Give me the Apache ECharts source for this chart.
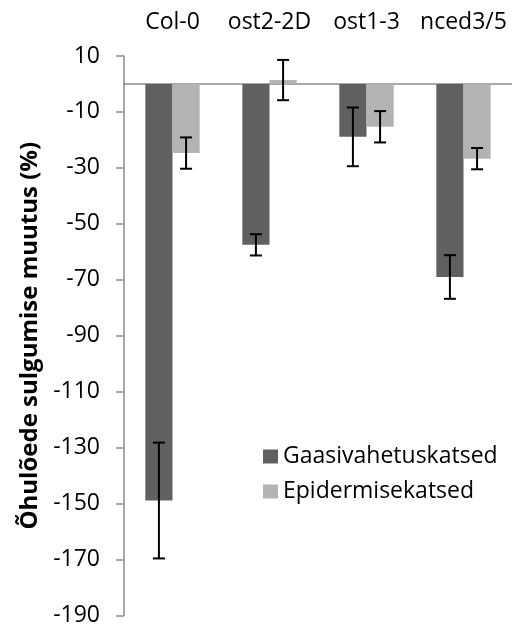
<!DOCTYPE html>
<html>
<head>
<meta charset="utf-8">
<script src="https://cdn.jsdelivr.net/npm/echarts@6/dist/echarts.min.js"></script>
<style>
  html, body { margin: 0; padding: 0; background: #fff; }
  #chart { width: 512px; height: 627px; }
</style>
</head>
<body>
<div id="chart"></div>
<script>
// Genotypes compared
var categories = ['Col-0', 'ost2-2D', 'ost1-3', 'nced3/5'];

// Change in stomatal closure (%) — gas-exchange experiments
var gasValues = [-148.9, -57.5, -18.9, -69.0];
var gasErrors = [20.7, 3.8, 10.5, 7.8];

// Change in stomatal closure (%) — epidermis experiments
var epiValues = [-24.7, 1.4, -15.3, -26.7];
var epiErrors = [5.6, 7.2, 5.6, 3.8];

// Y axis tick labels
var yTicks = [10, -10, -30, -50, -70, -90, -110, -130, -150, -170, -190];

var seriesNames = ['Gaasivahetuskatsed', 'Epidermisekatsed'];
var colors = ['#606060', '#b3b3b3'];
var FONT = 'Open Sans';
var FONT_SIZE = 23;
var BAR_FRAC = 0.28;

function errorData(values, errors, which) {
  return values.map(function (v, i) {
    return [i, v, errors[i], which];
  });
}

function renderErrorBar(params, api) {
  var cat = api.value(0);
  var mid = api.value(1);
  var err = api.value(2);
  var which = api.value(3);
  var band = api.size([1, 0])[0];
  var offset = (which === 0 ? -0.5 : 0.5) * band * BAR_FRAC;
  var top = api.coord([cat, mid + err]);
  var bot = api.coord([cat, mid - err]);
  var x = top[0] + offset;
  var cap = 6;
  var style = { stroke: '#000', lineWidth: 2, fill: null };
  return {
    type: 'group',
    children: [
      { type: 'line', shape: { x1: x, y1: top[1], x2: x, y2: bot[1] }, style: style },
      { type: 'line', shape: { x1: x - cap, y1: top[1], x2: x + cap, y2: top[1] }, style: style },
      { type: 'line', shape: { x1: x - cap, y1: bot[1], x2: x + cap, y2: bot[1] }, style: style }
    ]
  };
}

var chart = echarts.init(document.getElementById('chart'), null, { renderer: 'canvas' });

chart.setOption({
  animation: false,
  textStyle: { fontFamily: FONT },
  grid: { left: 124, top: 56, width: 389, height: 560 },
  legend: {
    orient: 'vertical',
    left: 258,
    top: 440,
    itemWidth: 15,
    itemHeight: 14,
    itemGap: 12,
    icon: 'rect',
    data: seriesNames,
    textStyle: { fontFamily: FONT, fontSize: FONT_SIZE, color: '#000' }
  },
  xAxis: [
    {
      type: 'category',
      data: categories,
      position: 'top',
      axisLine: { show: false, onZero: false },
      axisTick: { show: false },
      axisLabel: { interval: 0, margin: 22, fontFamily: FONT, fontSize: FONT_SIZE, color: '#000' }
    },
    {
      type: 'category',
      data: categories,
      position: 'bottom',
      axisLine: { show: true, onZero: true, lineStyle: { color: '#8c8c8c', width: 1.5 } },
      axisTick: { show: false },
      axisLabel: { show: false }
    }
  ],
  yAxis: {
    type: 'value',
    min: -190,
    max: 10,
    name: 'Õhulõede sulgumise muutus (%)',
    nameLocation: 'middle',
    nameGap: 82,
    nameTextStyle: { fontFamily: FONT, fontSize: 24, fontWeight: 'bold', color: '#000' },
    splitLine: { show: false },
    axisLine: { show: true, onZero: false, lineStyle: { color: '#8c8c8c', width: 1.5 } },
    axisTick: { show: true, length: 8, customValues: yTicks, lineStyle: { color: '#8c8c8c', width: 1.5 } },
    axisLabel: { margin: 24, customValues: yTicks, fontFamily: FONT, fontSize: FONT_SIZE, color: '#000' }
  },
  series: [
    {
      name: seriesNames[0],
      type: 'bar',
      data: gasValues,
      barWidth: (BAR_FRAC * 100) + '%',
      barGap: '0%',
      itemStyle: { color: colors[0] }
    },
    {
      name: seriesNames[1],
      type: 'bar',
      data: epiValues,
      barWidth: (BAR_FRAC * 100) + '%',
      barGap: '0%',
      itemStyle: { color: colors[1] }
    },
    {
      type: 'custom',
      renderItem: renderErrorBar,
      data: errorData(gasValues, gasErrors, 0),
      z: 10
    },
    {
      type: 'custom',
      renderItem: renderErrorBar,
      data: errorData(epiValues, epiErrors, 1),
      z: 10
    }
  ]
});
</script>
</body>
</html>
